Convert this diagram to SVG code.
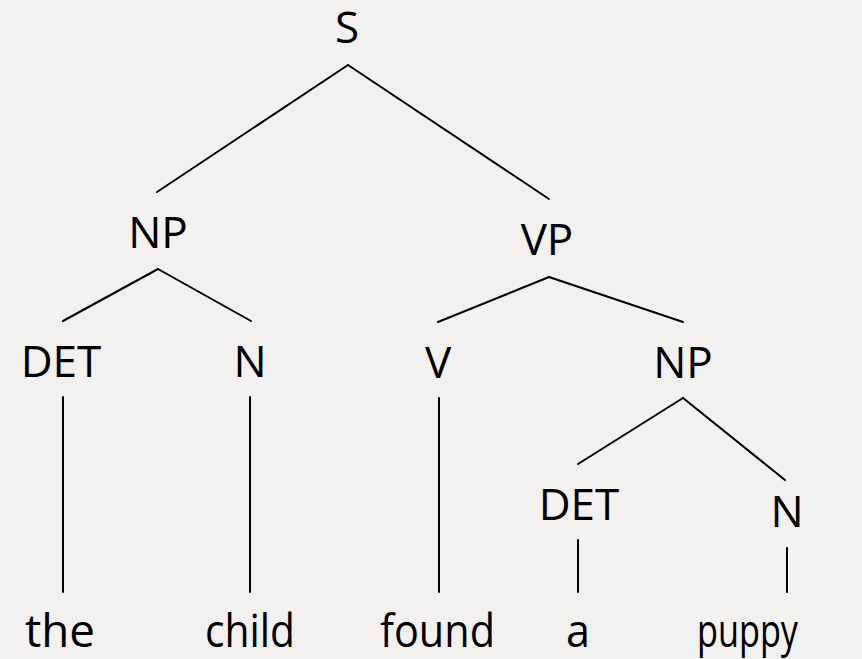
<svg xmlns="http://www.w3.org/2000/svg" width="862" height="659" viewBox="0 0 862 659">
<style>
.lbl{font-family:"Open Sans","Noto Sans",sans-serif;font-size:44px;fill:#000;text-anchor:middle}
.word{font-family:"Open Sans","Noto Sans",sans-serif;font-size:46px;fill:#000}
.edge{stroke:#000;stroke-width:2;fill:none;stroke-linecap:round}
</style>
<rect width="862" height="659" fill="#f3f1ef"/>
<g id="connectors">
<line class="edge" x1="348" y1="65" x2="157" y2="192"/>
<line class="edge" x1="348" y1="65" x2="549" y2="199"/>
<line class="edge" x1="158" y1="269" x2="63" y2="321"/>
<line class="edge" x1="158" y1="269" x2="251" y2="321"/>
<line class="edge" x1="549" y1="277" x2="438" y2="322"/>
<line class="edge" x1="549" y1="277" x2="683" y2="322"/>
<line class="edge" x1="683" y1="398" x2="578" y2="464"/>
<line class="edge" x1="683" y1="398" x2="785" y2="480"/>
<line class="edge" x1="63" y1="397" x2="63" y2="592"/>
<line class="edge" x1="250" y1="397" x2="250" y2="592"/>
<line class="edge" x1="439" y1="398" x2="439" y2="592"/>
<line class="edge" x1="578" y1="540" x2="578" y2="592"/>
<line class="edge" x1="787" y1="548" x2="787" y2="592"/>
</g>
<g id="S"><text class="lbl" x="347" y="43">S</text></g>
<g id="NP1"><text class="lbl" x="158" y="248">NP</text></g>
<g id="VP"><text class="lbl" x="547" y="255">VP</text></g>
<g id="DET1"><text class="lbl" x="61" y="377">DET</text></g>
<g id="N1"><text class="lbl" x="250" y="377">N</text></g>
<g id="V"><text class="lbl" x="438" y="378">V</text></g>
<g id="NP2"><text class="lbl" x="683" y="378">NP</text></g>
<g id="DET2"><text class="lbl" x="579" y="520">DET</text></g>
<g id="N2"><text class="lbl" x="787" y="527">N</text></g>
<g id="the"><text class="word" x="25" y="647" textLength="70" lengthAdjust="spacingAndGlyphs">the</text></g>
<g id="child"><text class="word" x="205" y="647" textLength="90" lengthAdjust="spacingAndGlyphs">child</text></g>
<g id="found"><text class="word" x="380" y="647" textLength="115" lengthAdjust="spacingAndGlyphs">found</text></g>
<g id="a"><text class="word" x="566" y="647" textLength="24" lengthAdjust="spacingAndGlyphs">a</text></g>
<g id="puppy"><text class="word" x="697" y="647" textLength="101" lengthAdjust="spacingAndGlyphs">puppy</text></g>
</svg>
